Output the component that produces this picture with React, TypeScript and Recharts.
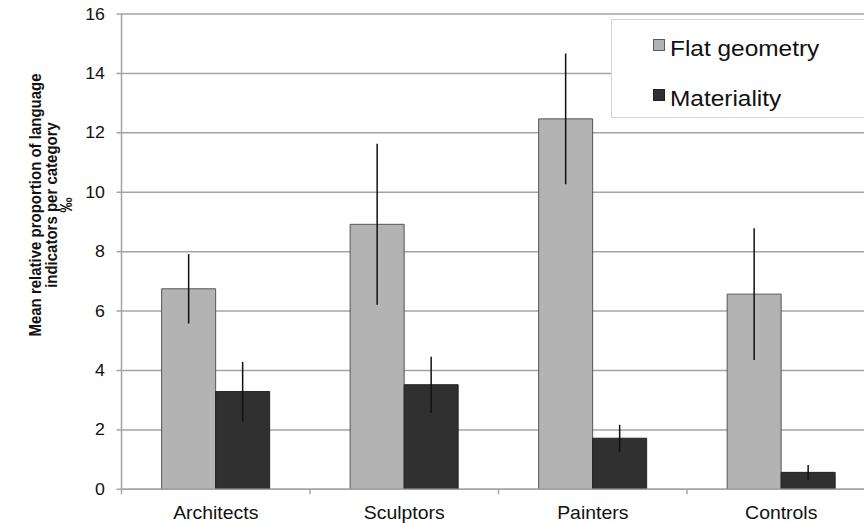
import React from 'react';
import {
  BarChart,
  Bar,
  XAxis,
  YAxis,
  CartesianGrid,
  ErrorBar,
  Legend,
  Label,
} from 'recharts';

const categories = ['Architects', 'Sculptors', 'Painters', 'Controls'];
const flatGeometry = [6.75, 8.92, 12.47, 6.57];
const flatGeometryErr = [1.17, 2.71, 2.2, 2.22];
const materiality = [3.29, 3.52, 1.72, 0.57];
const materialityErr = [1.0, 0.94, 0.45, 0.25];
const yTicks = [0, 2, 4, 6, 8, 10, 12, 14, 16];

const data = categories.map((c, i) => ({
  category: c,
  flat: flatGeometry[i],
  flatErr: flatGeometryErr[i],
  mat: materiality[i],
  matErr: materialityErr[i],
}));

const FONT = '"Liberation Sans", Arial, Helvetica, sans-serif';
const GRID = '#a4a4a4';
const CHART_W = 880;
const CHART_H = 523;
const Y_AXIS_W = 121.5;
const MARGIN = { top: 14, right: 4.5, bottom: 3.7, left: 0 };
const BAND = (CHART_W - Y_AXIS_W - MARGIN.right) / categories.length;
const STRETCH = 1.11;

const XTick = (props: any) => {
  const { x, y, payload } = props;
  return (
    <g>
      <line x1={x - BAND / 2} x2={x - BAND / 2} y1={y} y2={y + 5} stroke={GRID} strokeWidth={1.5} />
      <text
        transform={`translate(${x},${y + 30}) scale(${STRETCH},1)`}
        textAnchor="middle"
        fontFamily={FONT}
        fontSize={17.5}
        fill="#111"
      >
        {payload.value}
      </text>
    </g>
  );
};

const YTick = (props: any) => {
  const { x, y, payload } = props;
  return (
    <text
      transform={`translate(${x},${y + 5.6}) scale(${STRETCH},1)`}
      textAnchor="end"
      fontFamily={FONT}
      fontSize={16}
      fill="#111"
    >
      {payload.value}
    </text>
  );
};

// rotated title, glyphs widened a little like the original
const YTitle = () => {
  const lines = ['Mean relative proportion of language', 'indicators per category', '‰'];
  const xs = [40.5, 56.5, 71.5];
  return (
    <g>
      {lines.map((l, i) => (
        <text
          key={i}
          transform={`translate(${xs[i]},205) rotate(-90) scale(1,1.12)`}
          textAnchor="middle"
          fontFamily={FONT}
          fontWeight="bold"
          fontSize={15}
          fill="#111"
        >
          {l}
        </text>
      ))}
    </g>
  );
};

const legendItems = [
  { name: 'Flat geometry', fill: '#b3b3b3', stroke: '#5a5a5a' },
  { name: 'Materiality', fill: '#303030', stroke: '#222' },
];

const LegendBox = () => (
  <div
    style={{
      position: 'relative',
      width: 270,
      height: 99,
      background: '#fff',
      border: '1px solid #d4d4d4',
      boxSizing: 'border-box',
      fontFamily: FONT,
    }}
  >
    {legendItems.map((item, i) => (
      <div key={item.name} style={{ position: 'absolute', left: 41, top: 18 + i * 50, height: 26 }}>
        <div
          style={{
            position: 'absolute',
            left: 0,
            top: 1,
            width: 12,
            height: 12,
            boxSizing: 'border-box',
            background: item.fill,
            border: `1px solid ${item.stroke}`,
          }}
        />
        <div
          style={{
            position: 'absolute',
            left: 17,
            top: -2,
            fontSize: 22,
            lineHeight: '26px',
            color: '#111',
            whiteSpace: 'nowrap',
            transform: `scaleX(${STRETCH})`,
            transformOrigin: 'left',
          }}
        >
          {item.name}
        </div>
      </div>
    ))}
  </div>
);

export default function App() {
  return (
    <div
      style={{
        position: 'absolute',
        left: 0,
        top: 0,
        width: 864,
        height: 523,
        overflow: 'hidden',
        background: '#fff',
      }}
    >
      <BarChart
        width={CHART_W}
        height={CHART_H}
        data={data}
        margin={MARGIN}
        barCategoryGap="21.3%"
        barGap={0}
      >
        <CartesianGrid vertical={false} stroke={GRID} strokeWidth={1.5} />
        <XAxis
          dataKey="category"
          height={30}
          tickSize={0}
          tickMargin={0}
          tickLine={false}
          axisLine={{ stroke: GRID, strokeWidth: 1.5 }}
          tick={<XTick />}
          interval={0}
        />
        <YAxis
          width={Y_AXIS_W}
          domain={[0, 16]}
          ticks={yTicks}
          interval={0}
          tickSize={5}
          tickMargin={11.5}
          tickLine={{ stroke: GRID, strokeWidth: 1.5 }}
          axisLine={{ stroke: GRID, strokeWidth: 1.5 }}
          tick={<YTick />}
        >
          <Label content={<YTitle />} />
        </YAxis>
        <Legend
          layout="horizontal"
          verticalAlign="middle"
          align="center"
          wrapperStyle={{ left: 611, top: 19, width: 270, height: 99 }}
          content={<LegendBox />}
        />
        <Bar dataKey="flat" name="Flat geometry" fill="#b3b3b3" stroke="#555" strokeWidth={1} isAnimationActive={false}>
          <ErrorBar dataKey="flatErr" width={0} stroke="#111" strokeWidth={1.5} direction="y" />
        </Bar>
        <Bar dataKey="mat" name="Materiality" fill="#303030" stroke="#222" strokeWidth={1} isAnimationActive={false}>
          <ErrorBar dataKey="matErr" width={0} stroke="#111" strokeWidth={1.5} direction="y" />
        </Bar>
      </BarChart>
    </div>
  );
}
